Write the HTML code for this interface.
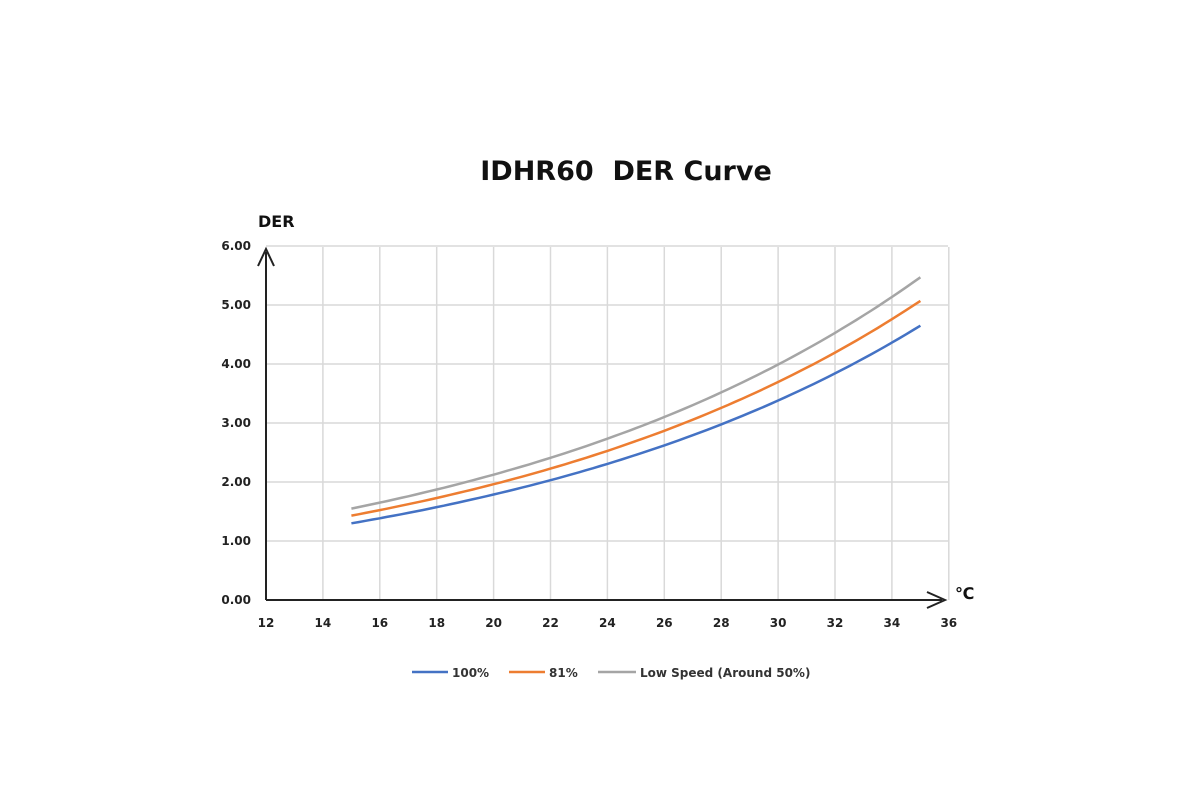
<!DOCTYPE html>
<html><head><meta charset="utf-8"><style>
html,body{margin:0;padding:0;background:#fff;width:1200px;height:800px;overflow:hidden}
text{font-family:"DejaVu Sans","Liberation Sans",sans-serif}
</style></head><body>
<svg id="s" width="1200" height="800" xmlns="http://www.w3.org/2000/svg">
<text x="626" y="180" text-anchor="middle" font-size="27" font-weight="bold" fill="#111">IDHR60&#160; DER Curve</text>
<text x="258" y="227" font-size="16" font-weight="bold" fill="#111">DER</text>
<g id="grid" stroke="#d9d9d9" stroke-width="1.5"></g>
<g id="labels" font-size="12" font-weight="bold" fill="#222"></g>
<line x1="266" y1="600" x2="266" y2="252" stroke="#222" stroke-width="2"/>
<path d="M258,266 L266,249 L274,266" fill="none" stroke="#222" stroke-width="2"/>
<line x1="266" y1="600" x2="942" y2="600" stroke="#222" stroke-width="2"/>
<path d="M927,592 L945,600 L927,608" fill="none" stroke="#222" stroke-width="2"/>
<text x="955" y="599" font-size="16" font-weight="bold" fill="#111">℃</text>
<g id="curves" fill="none" stroke-width="2.5"></g>
<g font-size="12" font-weight="bold" fill="#333">
<line x1="412" y1="672" x2="448" y2="672" stroke="#4472c4" stroke-width="2.5"/>
<text x="452" y="677">100%</text>
<line x1="509" y1="672" x2="545" y2="672" stroke="#ed7d31" stroke-width="2.5"/>
<text x="549" y="677">81%</text>
<line x1="598" y1="672" x2="636" y2="672" stroke="#a5a5a5" stroke-width="2.5"/>
<text x="640" y="677">Low Speed (Around 50%)</text>
</g>
</svg>
<script>
var ns="http://www.w3.org/2000/svg";
function X(v){return 266+(v-12)*28.45}
function Y(v){return 600-v*59}
var g=document.getElementById("grid"),L=document.getElementById("labels");
function el(p,t,a){var e=document.createElementNS(ns,t);for(var k in a)e.setAttribute(k,a[k]);p.appendChild(e);return e}
for(var x=12;x<=36;x+=2){if(x>12)el(g,"line",{x1:X(x),y1:247,x2:X(x),y2:600});var t=el(L,"text",{x:X(x),y:627,"text-anchor":"middle"});t.textContent=x;}
for(var y=0;y<=6;y++){if(y>0)el(g,"line",{x1:266,y1:Y(y),x2:948,y2:Y(y)});var t=el(L,"text",{x:251,y:Y(y)+4,"text-anchor":"end"});t.textContent=y.toFixed(2);}
var c=document.getElementById("curves");
[[1.30,4.65,"#4472c4"],[1.43,5.07,"#ed7d31"],[1.55,5.47,"#a5a5a5"]].forEach(function(s){
 var b=Math.log(s[1]/s[0])/20,d="";
 for(var x=15;x<=35.001;x+=0.25){d+=(d?"L":"M")+X(x).toFixed(1)+","+Y(s[0]*Math.exp(b*(x-15))).toFixed(1);}
 el(c,"path",{d:d,stroke:s[2]});
});
</script>
</body></html>
